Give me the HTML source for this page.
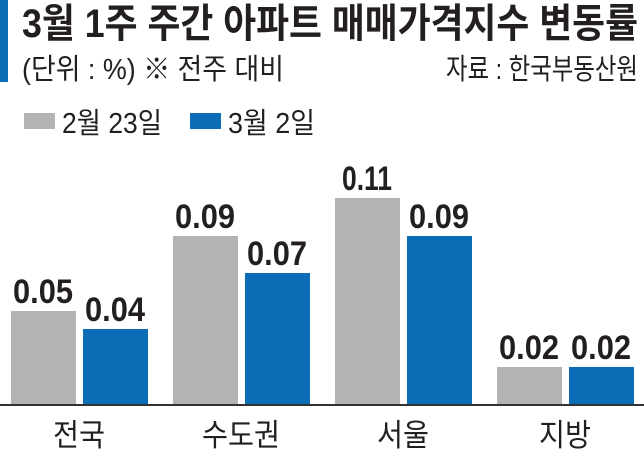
<!DOCTYPE html>
<html><head><meta charset="utf-8"><style>
html,body{margin:0;padding:0;background:#fff;width:644px;height:454px;overflow:hidden}
svg{display:block}
text{font-family:"Liberation Sans","Noto Sans CJK KR",sans-serif;fill:#231f20}
</style></head><body>
<svg width="644" height="454" viewBox="0 0 644 454">
<rect x="0" y="0" width="8" height="82" fill="#0a6db5"/>
<text x="22" y="37" font-size="40" font-weight="bold" textLength="616" lengthAdjust="spacingAndGlyphs" font-family="Noto Sans CJK KR,sans-serif">3월 1주 주간 아파트 매매가격지수 변동률</text>
<text x="22" y="79" font-size="29" textLength="262" lengthAdjust="spacingAndGlyphs">(단위 : %)  ※ 전주 대비</text>
<text x="446" y="79" font-size="29" textLength="192" lengthAdjust="spacingAndGlyphs">자료 : 한국부동산원</text>
<rect x="24" y="113" width="31" height="16" fill="#b3b3b3"/>
<text x="62" y="133" font-size="29" textLength="100" lengthAdjust="spacingAndGlyphs">2월 23일</text>
<rect x="190" y="113" width="31" height="16" fill="#0a6db5"/>
<text x="228" y="133" font-size="29" textLength="87" lengthAdjust="spacingAndGlyphs">3월 2일</text>
<g fill="#b3b3b3">
<rect x="11" y="311" width="65" height="93"/>
<rect x="173" y="236" width="65" height="168"/>
<rect x="335" y="198" width="65" height="206"/>
<rect x="497" y="367" width="65" height="37"/>
</g>
<g fill="#0a6db5">
<rect x="83" y="329" width="65" height="75"/>
<rect x="245" y="273" width="65" height="131"/>
<rect x="407" y="236" width="65" height="168"/>
<rect x="569" y="367" width="65" height="37"/>
</g>
<rect x="0" y="404" width="644" height="2" fill="#333"/>
<g font-size="34" font-weight="bold" text-anchor="middle">
<text x="43" y="303" textLength="60" lengthAdjust="spacingAndGlyphs">0.05</text>
<text x="115" y="321" textLength="60" lengthAdjust="spacingAndGlyphs">0.04</text>
<text x="205" y="228" textLength="60" lengthAdjust="spacingAndGlyphs">0.09</text>
<text x="277" y="265" textLength="60" lengthAdjust="spacingAndGlyphs">0.07</text>
<text x="367" y="190" textLength="50" lengthAdjust="spacingAndGlyphs">0.11</text>
<text x="439" y="228" textLength="60" lengthAdjust="spacingAndGlyphs">0.09</text>
<text x="529" y="359" textLength="60" lengthAdjust="spacingAndGlyphs">0.02</text>
<text x="601" y="359" textLength="60" lengthAdjust="spacingAndGlyphs">0.02</text>
</g>
<g font-size="31" text-anchor="middle">
<text x="79" y="446" textLength="52" lengthAdjust="spacingAndGlyphs">전국</text>
<text x="241" y="446" textLength="78" lengthAdjust="spacingAndGlyphs">수도권</text>
<text x="403" y="446" textLength="52" lengthAdjust="spacingAndGlyphs">서울</text>
<text x="565" y="446" textLength="52" lengthAdjust="spacingAndGlyphs">지방</text>
</g>
</svg>
</body></html>
